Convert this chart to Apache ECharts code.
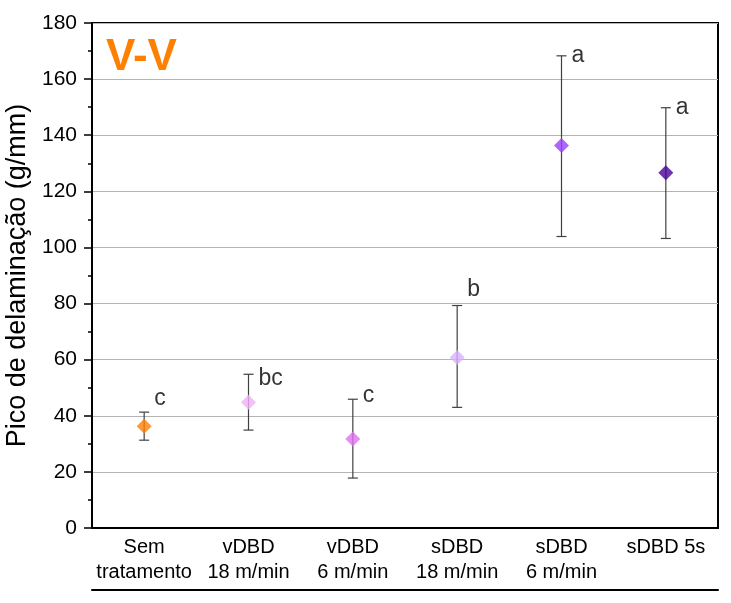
<!DOCTYPE html>
<html>
<head>
<meta charset="utf-8">
<script src="https://cdn.jsdelivr.net/npm/echarts@6/dist/echarts.min.js"></script>
<style>
  html, body { margin: 0; padding: 0; background: #fff; }
  #main { width: 731px; height: 603px; }
</style>
</head>
<body>
<div id="main"></div>
<script>
// dados
const categories = ['Sem\ntratamento', 'vDBD\n18 m/min', 'vDBD\n6 m/min', 'sDBD\n18 m/min', 'sDBD\n6 m/min', 'sDBD 5s'];
const means = [36.3, 44.8, 31.7, 60.8, 136.3, 126.6];
const errLow = [31.3, 34.9, 17.8, 43.0, 103.9, 103.2];
const errHigh = [41.3, 54.8, 45.9, 79.3, 168.3, 149.8];
const letters = ['c', 'bc', 'c', 'b', 'a', 'a'];
const letterY = [46.2, 53.4, 47.3, 85.0, 168.3, 149.8];
const colors = ['#FF8000', '#F0B0F8', '#E070F0', '#D8B0FF', '#9B40FF', '#4B0096'];

const font = 'Liberation Sans, Arial, sans-serif';
const chart = echarts.init(document.getElementById('main'));

// barras de erro (linha + tampas)
const errData = categories.map((c, i) => [i, errLow[i], errHigh[i]]);
function renderErr(params, api) {
    const top = api.coord([api.value(0), api.value(2)]);
    const bot = api.coord([api.value(0), api.value(1)]);
    const w = 5;
    const st = { stroke: '#404040', lineWidth: 1.2 };
    return {
        type: 'group',
        children: [
            { type: 'line', shape: { x1: top[0], y1: top[1], x2: bot[0], y2: bot[1] }, style: st },
            { type: 'line', shape: { x1: top[0] - w, y1: top[1], x2: top[0] + w, y2: top[1] }, style: st },
            { type: 'line', shape: { x1: bot[0] - w, y1: bot[1], x2: bot[0] + w, y2: bot[1] }, style: st }
        ]
    };
}

const option = {
    animation: false,
    title: {
        text: 'V-V',
        left: 101,
        top: 31,
        textStyle: { color: '#FF8000', fontSize: 44, fontWeight: 'bold', fontFamily: font }
    },
    grid: {
        left: 92, right: 13, top: 23, bottom: 75,
        outerBoundsMode: 'none',
        show: true, borderColor: '#000', borderWidth: 2
    },
    xAxis: [{
        type: 'category',
        data: categories,
        axisLine: { lineStyle: { color: '#000', width: 2 } },
        axisTick: { show: false },
        axisLabel: {
            color: '#000', fontSize: 20, fontFamily: font, lineHeight: 25, margin: 7, interval: 0
        }
    }, {
        type: 'category',
        data: categories,
        position: 'bottom',
        offset: 62,
        axisLine: { show: true, lineStyle: { color: '#000', width: 2 } },
        axisTick: { show: false },
        axisLabel: { show: false }
    }],
    yAxis: {
        type: 'value',
        min: 0, max: 180, interval: 20,
        name: 'Pico de delaminação (g/mm)',
        nameLocation: 'middle',
        nameGap: 55,
        nameTextStyle: { color: '#000', fontSize: 27, fontFamily: font },
        axisLine: { show: true, lineStyle: { color: '#000', width: 2 } },
        axisTick: { show: true, length: 8, lineStyle: { color: '#000', width: 1.5 } },
        minorTick: { show: true, splitNumber: 2, length: 4, lineStyle: { color: '#000', width: 1.5 } },
        axisLabel: { color: '#000', fontSize: 21, fontFamily: font, margin: 15 },
        splitLine: { show: true, lineStyle: { color: '#b4b4b4', width: 1.2 } }
    },
    series: [{
        type: 'custom',
        renderItem: renderErr,
        data: errData,
        z: 2
    }, {
        type: 'scatter',
        symbol: 'diamond',
        symbolSize: 15,
        data: means.map((v, i) => ({ value: [i, v], itemStyle: { color: colors[i] } })),
        z: 3
    }, {
        type: 'scatter',
        symbolSize: 0,
        silent: true,
        data: letterY.map((v, i) => ({ value: [i, v], name: letters[i] })),
        label: {
            show: true,
            position: 'right',
            distance: 10,
            formatter: p => p.name,
            color: '#000',
            fontSize: 23,
            fontFamily: font
        },
        z: 4
    }]
};
chart.setOption(option);
</script>
</body>
</html>
